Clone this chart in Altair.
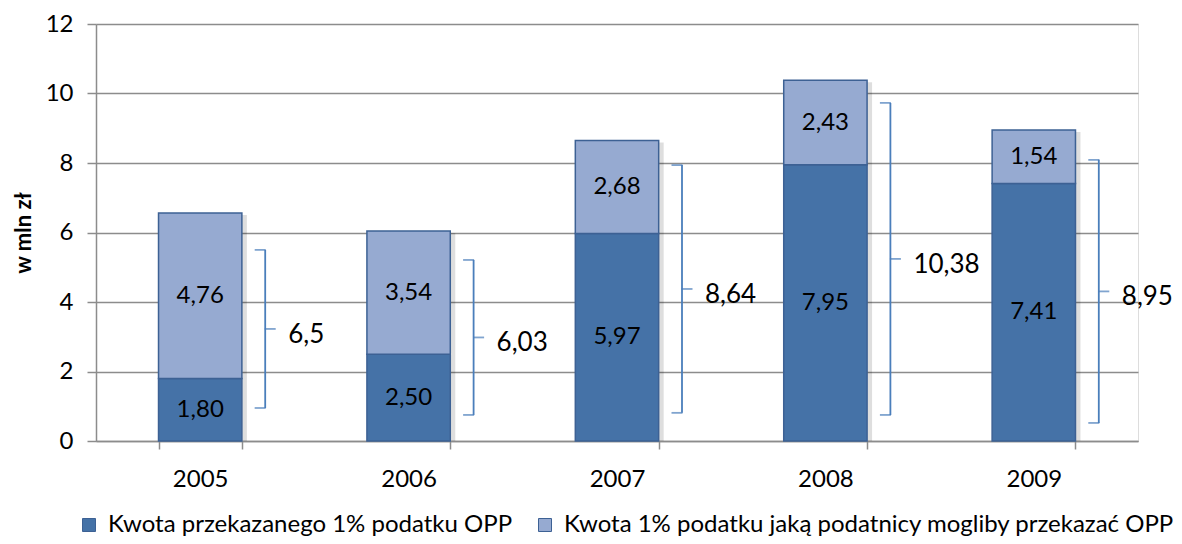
import altair as alt
import pandas as pd

years = ["2005", "2006", "2007", "2008", "2009"]
transferred = [1.80, 2.50, 5.97, 7.95, 7.41]
potential = [4.76, 3.54, 2.68, 2.43, 1.54]
total_labels = ["6,5", "6,03", "8,64", "10,38", "8,95"]
brace_top = [5.50, 5.21, 7.94, 9.73, 8.09]
brace_bottom = [0.95, 0.75, 0.81, 0.75, 0.52]
series = ["Kwota przekazanego 1% podatku OPP",
          "Kwota 1% podatku jaką podatnicy mogliby przekazać OPP"]
colors = ["#4572A7", "#96AAD1"]

FONT = "Lato"

rows = []
for i, y in enumerate(years):
    a, b = transferred[i], potential[i]
    rows.append(dict(year=y, series=series[0], start=0.0, end=a,
                     mid=a / 2, label=f"{a:.2f}".replace(".", ",")))
    rows.append(dict(year=y, series=series[1], start=a, end=a + b,
                     mid=a + b / 2, label=f"{b:.2f}".replace(".", ",")))
bars_df = pd.DataFrame(rows)

tot_df = pd.DataFrame(dict(
    year=years,
    total=[t + p for t, p in zip(transferred, potential)],
    top=brace_top, bottom=brace_bottom,
    mid=[(t + b) / 2 for t, b in zip(brace_top, brace_bottom)],
    label=total_labels,
))

x_enc = alt.X("year:N", title=None, sort=years,
              scale=alt.Scale(paddingInner=0.6, paddingOuter=0.3),
              axis=alt.Axis(labelAngle=0, tickBand="extent", tickSize=8,
                            tickColor="#8c8c8c", domainColor="#8c8c8c",
                            domainWidth=1.5, tickWidth=1.5,
                            labelFontSize=24, labelPadding=18,
                            labelColor="#000000", labelFont=FONT, grid=False))
y_scale = alt.Scale(domain=[0, 12])
y_axis = alt.Axis(values=[0, 2, 4, 6, 8, 10, 12], grid=True,
                  gridColor="#8c8c8c", gridWidth=1.5,
                  domainColor="#8c8c8c", domainWidth=1.5,
                  tickColor="#8c8c8c", tickWidth=1.5, tickSize=9,
                  labelFontSize=24, labelPadding=14, labelColor="#000000",
                  labelFont=FONT, title="w mln zł", titleFontSize=22,
                  titleFont=FONT, titleFontWeight="bold", titleColor="#000000",
                  titlePadding=10)

shadow = alt.Chart(tot_df).mark_bar(color="#000000", opacity=0.13,
                                    xOffset=5, yOffset=2).encode(
    x=x_enc,
    y=alt.Y("total:Q", scale=y_scale, axis=y_axis),
    y2=alt.datum(0),
)

bars = alt.Chart(bars_df).mark_bar(stroke="#3D6194", strokeWidth=1.5).encode(
    x=x_enc,
    y=alt.Y("start:Q", scale=y_scale, axis=y_axis),
    y2="end:Q",
    color=alt.Color("series:N", sort=series,
                    scale=alt.Scale(domain=series, range=colors),
                    legend=alt.Legend(title=None, orient="none",
                                      legendX=-19, legendY=489,
                                      direction="horizontal",
                                      symbolType="square", symbolSize=169,
                                      symbolStrokeColor="#3D6194",
                                      symbolStrokeWidth=1,
                                      labelFontSize=24, labelFont=FONT,
                                      labelColor="#000000", labelLimit=1000,
                                      labelOffset=7,
                                      columnPadding=20)),
)

bar_text = alt.Chart(bars_df).mark_text(fontSize=24, font=FONT,
                                        color="#000000").encode(
    x=x_enc,
    y=alt.Y("mid:Q", scale=y_scale),
    text="label:N",
)

brace_color = "#4A7EBB"
brace_v = alt.Chart(tot_df).mark_rule(color=brace_color, strokeWidth=1.8,
                                      xOffset=65).encode(
    x=x_enc, y=alt.Y("top:Q", scale=y_scale), y2="bottom:Q")
hook_top = alt.Chart(tot_df).mark_tick(color=brace_color, thickness=1.8,
                                       size=11, xOffset=60).encode(
    x=x_enc, y=alt.Y("top:Q", scale=y_scale))
hook_bot = alt.Chart(tot_df).mark_tick(color=brace_color, thickness=1.8,
                                       size=11, xOffset=60).encode(
    x=x_enc, y=alt.Y("bottom:Q", scale=y_scale))
nub = alt.Chart(tot_df).mark_tick(color=brace_color, thickness=1.8,
                                  size=11, xOffset=70).encode(
    x=x_enc, y=alt.Y("mid:Q", scale=y_scale))
tot_text = alt.Chart(tot_df).mark_text(fontSize=26, font=FONT, align="left",
                                       dx=88, dy=6, color="#000000").encode(
    x=x_enc, y=alt.Y("mid:Q", scale=y_scale), text="label:N")

chart = alt.layer(shadow, bars, bar_text, brace_v, hook_top, hook_bot, nub,
                  tot_text).properties(
    width=1042, height=417,
    autosize=alt.AutoSizeParams(type="none"),
    padding={"left": 88, "top": 16, "right": 36, "bottom": 95},
).configure_view(fill="#E9EDF4", stroke=None).configure(font=FONT)

chart.save("out.html", embed_options={"renderer": "svg", "actions": False})
